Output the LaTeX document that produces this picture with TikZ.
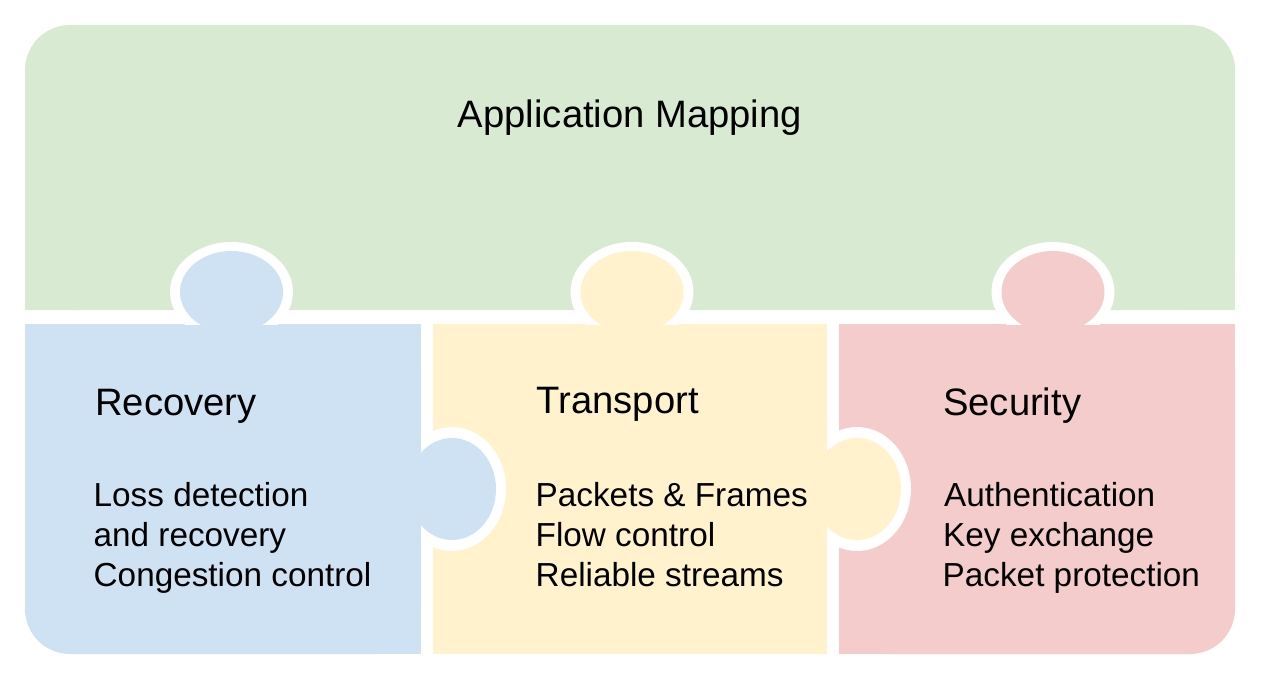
\documentclass[tikz,border=0pt]{standalone}
\usepackage{fontspec}
\setmainfont{Liberation Sans}
\definecolor{pgreen}{HTML}{D9EAD3}
\definecolor{pblue}{HTML}{CFE2F3}
\definecolor{pyellow}{HTML}{FFF2CC}
\definecolor{pred}{HTML}{F4CCCC}
\tikzset{
  headtxt/.style={anchor=base west, inner sep=0pt, font=\fontsize{38.2}{40}\selectfont},
  bodytxt/.style={anchor=base west, inner sep=0pt, font=\fontsize{33.3}{40}\selectfont},
  ring/.style={fill=white},
}
\begin{document}
\begin{tikzpicture}[x=1pt,y=-1pt]
\useasboundingbox (0,0) rectangle (1273,685);
% green top piece
\fill[pgreen, rounded corners=45pt] (25,25) rectangle (1235,310);
\fill[pgreen] (25,150) rectangle (1235,310);
% blue piece (bottom-left rounded)
\fill[pblue, rounded corners=45pt] (25,324) rectangle (421,654);
\fill[pblue] (25,324) rectangle (421,500);
\fill[pblue] (150,324) rectangle (421,654);
% yellow piece
\fill[pyellow] (433,324) rectangle (827,654);
% red piece (bottom-right rounded)
\fill[pred, rounded corners=45pt] (839,324) rectangle (1235,654);
\fill[pred] (839,324) rectangle (1235,500);
\fill[pred] (839,324) rectangle (1100,654);
% white rings of top knobs
\begin{scope}
\clip (0,0) rectangle (1273,324);
\fill[ring] (231.5,292) ellipse [x radius=61.5, y radius=50];
\fill[ring] (632,292) ellipse [x radius=61.5, y radius=50];
\fill[ring] (1053,292) ellipse [x radius=61.5, y radius=50];
\end{scope}
% white rings of side knobs
\begin{scope}
\clip (421,0) rectangle (1273,685);
\fill[ring] (452,489) ellipse [x radius=54, y radius=62];
\end{scope}
\begin{scope}
\clip (827,0) rectangle (1273,685);
\fill[ring] (857,489) ellipse [x radius=54, y radius=62];
\end{scope}
% knobs
\fill[pblue] (231.5,292) ellipse [x radius=51.5, y radius=41];
\fill[pyellow] (632,292) ellipse [x radius=51.5, y radius=41];
\fill[pred] (1053,292) ellipse [x radius=51.5, y radius=41];
\fill[pblue] (452,489) ellipse [x radius=44, y radius=51];
\fill[pyellow] (857,489) ellipse [x radius=44, y radius=51];
% texts
\node[anchor=base, inner sep=0pt, font=\fontsize{38.2}{40}\selectfont] (app) at (630,127) {Application Mapping};
\node[headtxt] (rech) at (95,415) {Recovery};
\node[bodytxt] (rec1) at (93.5,506) {Loss detection};
\node[bodytxt] (rec2) at (93.5,546) {and recovery};
\node[bodytxt] (rec3) at (93.5,586) {Congestion control};
\node[headtxt] (trah) at (536.5,413) {Transport};
\node[bodytxt] (tra1) at (535.5,506) {Packets \& Frames};
\node[bodytxt] (tra2) at (535.5,546) {Flow control};
\node[bodytxt] (tra3) at (535.5,586) {Reliable streams};
\node[headtxt] (sech) at (943,415) {Security};
\node[bodytxt] (sec1) at (944,506) {Authentication};
\node[bodytxt] (sec2) at (943,546) {Key exchange};
\node[bodytxt] (sec3) at (942.5,586) {Packet protection};
\end{tikzpicture}
\end{document}
